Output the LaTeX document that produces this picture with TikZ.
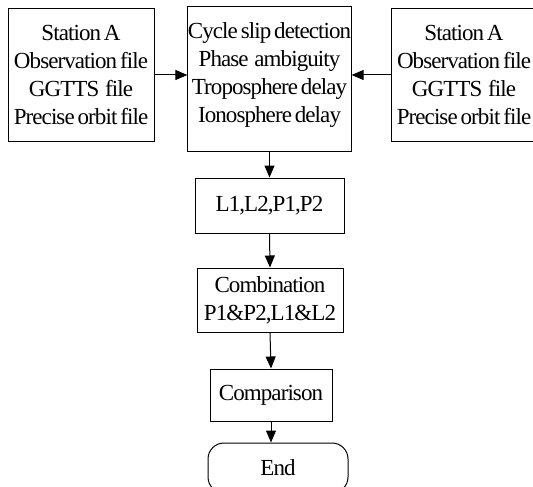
\documentclass[tikz,border=0pt]{standalone}
\usepackage{fontspec}
\setmainfont{Liberation Serif}[LetterSpace=-4,WordSpace=0.6]
\usetikzlibrary{arrows.meta}
\begin{document}
\begin{tikzpicture}[x=1pt,y=-1pt,
  box/.style={draw, line width=1pt, inner sep=0pt, align=center,
    font=\fontsize{23}{28}\selectfont},
  arr/.style={line width=1pt, -{Triangle[length=12pt,width=10pt]}}]
\useasboundingbox (0,0) rectangle (533,487);
\node[box, minimum width=146pt, minimum height=132pt] (sa) at (81,75)
  {Station A\\Observation file\\GGTTS\ \ file\\Precise orbit file};
\node[box, minimum width=155pt, minimum height=144pt] (proc) at (269.5,79)
  {Cycle slip detection\\Phase\ \ ambiguity\\Troposphere delay\\Ionosphere delay\\[-15pt]\mbox{}};
\node[box, minimum width=146pt, minimum height=132pt] (sb) at (464,75)
  {Station A\\Observation file\\GGTTS\ \ file\\Precise orbit file};
\node[box, minimum width=149pt, minimum height=55pt] (obs) at (269.5,205.5)
  {L1,L2,P1,P2};
\node[box, minimum width=146pt, minimum height=64pt] (comb) at (270,300)
  {Combination\\P1\&P2,L1\&L2};
\node[box, minimum width=122pt, minimum height=52pt] (cmp) at (271,395)
  {Comparison};
\node[box, rounded corners=16pt, minimum width=140pt, minimum height=50pt] (end) at (278,468)
  {End};
\draw[arr] (sa.east) -- (proc.west |- sa.east);
\draw[arr] (sb.west) -- (proc.east |- sb.west);
\draw[arr] (proc.south) -- (obs.north);
\draw[arr] (obs.south) -- (comb.north);
\draw[arr] (comb.south) -- (cmp.north);
\draw[arr] (cmp.south) -- (cmp.south |- end.north);
\end{tikzpicture}
\end{document}
